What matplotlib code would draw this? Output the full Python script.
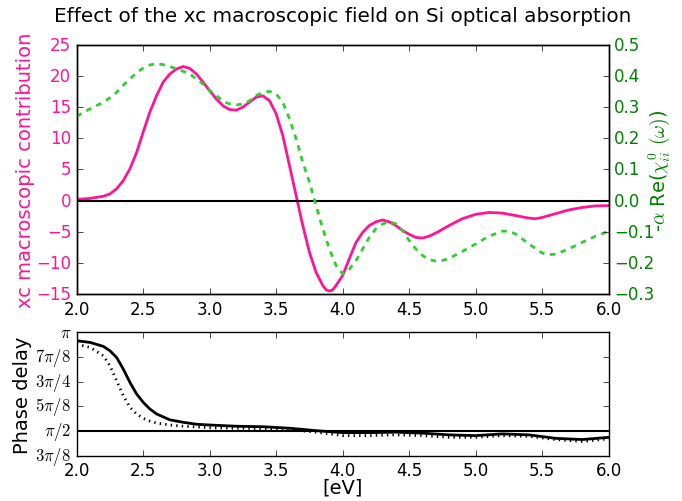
import matplotlib
matplotlib.use("Agg")
import matplotlib.pyplot as plt
import numpy as np

plt.style.use('classic')
plt.rcParams['mathtext.fontset'] = 'cm'

# ---- data ----
x_xc = [2.0, 2.1, 2.2, 2.25, 2.3, 2.35, 2.4, 2.45, 2.5, 2.55, 2.6, 2.65, 2.7, 2.75, 2.8,
        2.85, 2.9, 2.95, 3.0, 3.05, 3.1, 3.15, 3.2, 3.25, 3.3, 3.35, 3.4, 3.45, 3.5, 3.55,
        3.6, 3.65, 3.7, 3.75, 3.8, 3.85, 3.875, 3.9, 3.925, 3.95, 4.0, 4.05, 4.1, 4.15, 4.2, 4.25, 4.3,
        4.35, 4.4, 4.45, 4.5, 4.55, 4.6, 4.65, 4.7, 4.8, 4.9, 5.0, 5.1, 5.2, 5.3, 5.4,
        5.45, 5.5, 5.6, 5.7, 5.8, 5.9, 6.0]
xc_contrib = [0.2, 0.35, 0.7, 1.07, 1.9, 3.2, 5.1, 7.7, 11.0, 14.2, 16.8, 19.0, 20.3, 21.1, 21.5,
              21.2, 20.3, 19.0, 17.6, 16.3, 15.2, 14.6, 14.5, 15.0, 15.8, 16.6, 16.8, 16.0, 13.9, 10.4,
              5.6, 0.8, -4.0, -8.3, -11.5, -13.6, -14.3, -14.5, -14.3, -13.6, -12.0, -9.3, -6.7, -5.1, -4.0, -3.4, -3.1,
              -3.4, -4.0, -4.8, -5.4, -5.9, -6.0, -5.7, -5.2, -4.0, -2.9, -2.2, -1.9, -2.0, -2.4, -2.8,
              -2.9, -2.7, -2.1, -1.5, -1.1, -0.85, -0.8]

x_chi = [2.0, 2.05, 2.1, 2.15, 2.2, 2.25, 2.3, 2.35, 2.4, 2.45, 2.5, 2.55, 2.6, 2.65, 2.7,
         2.75, 2.8, 2.85, 2.9, 2.95, 3.0, 3.05, 3.1, 3.15, 3.2, 3.25, 3.3, 3.35, 3.4, 3.45,
         3.5, 3.55, 3.6, 3.65, 3.7, 3.75, 3.8, 3.85, 3.9, 3.95, 4.0, 4.05, 4.1, 4.15, 4.2,
         4.25, 4.3, 4.35, 4.4, 4.45, 4.5, 4.55, 4.6, 4.65, 4.7, 4.75, 4.8, 4.9, 5.0, 5.1,
         5.2, 5.25, 5.3, 5.4, 5.5, 5.55, 5.6, 5.7, 5.8, 5.9, 6.0]
re_chi = [0.270, 0.283, 0.294, 0.305, 0.315, 0.330, 0.347, 0.370, 0.390, 0.410, 0.425, 0.435, 0.439, 0.436, 0.430,
          0.422, 0.415, 0.406, 0.390, 0.374, 0.353, 0.337, 0.318, 0.310, 0.307, 0.310, 0.320, 0.337, 0.347, 0.350,
          0.342, 0.315, 0.262, 0.198, 0.123, 0.059, -0.016, -0.090, -0.155, -0.208, -0.235, -0.220, -0.192, -0.155, -0.118,
          -0.090, -0.075, -0.067, -0.075, -0.096, -0.128, -0.155, -0.176, -0.189, -0.194, -0.192, -0.185, -0.163, -0.139, -0.114,
          -0.098, -0.098, -0.107, -0.139, -0.168, -0.173, -0.172, -0.155, -0.134, -0.114, -0.098]

# phase delay in units of pi/8
x_phase = [2.0, 2.1, 2.2, 2.25, 2.3, 2.35, 2.4, 2.45, 2.5, 2.55, 2.6, 2.7, 2.8, 2.9, 3.0,
           3.2, 3.4, 3.6, 3.8, 4.0, 4.2, 4.4, 4.6, 4.8, 5.0, 5.2, 5.4, 5.6, 5.8, 6.0]
phase_full = [7.66, 7.59, 7.43, 7.25, 6.98, 6.51, 5.97, 5.50, 5.16, 4.89, 4.69, 4.45, 4.35, 4.27, 4.24,
              4.19, 4.17, 4.11, 4.01, 3.93, 3.93, 3.95, 3.91, 3.84, 3.81, 3.88, 3.84, 3.70, 3.65, 3.74]
phase_dot = [7.52, 7.39, 7.05, 6.64, 6.04, 5.43, 4.96, 4.69, 4.51, 4.40, 4.32, 4.24, 4.19, 4.16, 4.13,
             4.11, 4.09, 4.05, 3.95, 3.81, 3.81, 3.84, 3.81, 3.74, 3.74, 3.81, 3.78, 3.65, 3.57, 3.68]

phase_ticks = [3, 4, 5, 6, 7, 8]
phase_ticklabels = [r'$3\pi/8$', r'$\pi/2$', r'$5\pi/8$', r'$3\pi/4$', r'$7\pi/8$', r'$\pi$']

pink = '#FF1493'
green_line = '#32CD32'
green_text = '#008000'

fig = plt.figure(figsize=(6.82, 5.02), dpi=100, facecolor='white')
ax1 = fig.add_axes([0.1125, 0.412, 0.7800, 0.497])
ax1.set_facecolor('white')
ax1.plot(x_xc, xc_contrib, color=pink, lw=2)
ax1.axhline(0, color='black', lw=1.5)
ax1.set_xlim(2.0, 6.0)
ax1.set_ylim(-15, 25)
ax1.set_yticks(np.arange(-15, 26, 5))
ax1.set_xticks(np.arange(2.0, 6.01, 0.5))
ax1.set_ylabel('xc macroscopic contribution', color=pink, fontsize=14, labelpad=1)
for t in ax1.get_yticklabels():
    t.set_color(pink)
ax1.set_title('Effect of the xc macroscopic field on Si optical absorption', fontsize=14.4, pad=17)

ax2 = ax1.twinx()
ax2.plot(x_chi, re_chi, color=green_line, lw=2, ls='--', dashes=(4, 4))
ax2.set_ylim(-0.3, 0.5)
ax2.set_yticks(np.arange(-0.3, 0.51, 0.1))
ax2.set_ylabel(r'-$\alpha$ Re($\chi^0_{ii}\ (\omega)$)', color=green_text, fontsize=14, labelpad=-6)
for t in ax2.get_yticklabels():
    t.set_color(green_text)
ax2.set_xlim(2.0, 6.0)

ax3 = fig.add_axes([0.1125, 0.0905, 0.7800, 0.2455])
ax3.set_facecolor('white')
ax3.plot(x_phase, phase_full, color='black', lw=2)
ax3.plot(x_phase, phase_dot, color='black', lw=2, ls=':')
ax3.axhline(4, color='black', lw=1.5)
ax3.set_xlim(2.0, 6.0)
ax3.set_ylim(3, 8)
ax3.set_yticks(phase_ticks)
ax3.set_yticklabels(phase_ticklabels)
ax3.set_xticks(np.arange(2.0, 6.01, 0.5))
ax3.set_xlabel('[eV]', fontsize=14, labelpad=-1)
ax3.set_ylabel('Phase delay', fontsize=14, labelpad=2)

fig.savefig('out.png', dpi=100, facecolor='white')
